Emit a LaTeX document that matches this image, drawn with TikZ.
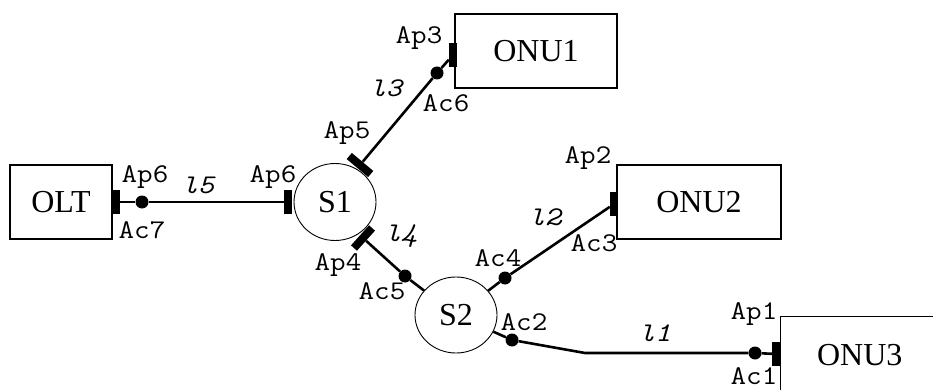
\documentclass[tikz,border=0pt]{standalone}
\usepackage{fontspec}
\usepackage{graphicx}
\setmainfont{Liberation Serif}
\usetikzlibrary{shapes.geometric}
\newcommand\widetxt[1]{\scalebox{1.12}[1]{#1}}
\begin{document}
\begin{tikzpicture}[x=1pt,y=-1pt,
  box/.style={draw, line width=1.4pt, rectangle, inner sep=0pt, font=\fontsize{32}{32}\selectfont},
  sw/.style={draw, line width=0.9pt, ellipse, minimum width=82pt, minimum height=77pt, inner sep=0pt, font=\fontsize{32}{32}\selectfont},
  pbar/.style={fill=black, rectangle, minimum width=8pt, minimum height=24pt, inner sep=0pt},
  pdot/.style={fill=black, circle, minimum size=13pt, inner sep=0pt},
  conn/.style={line width=2.6pt},
  lab/.style={font=\ttfamily\fontsize{27}{27}\selectfont, inner sep=0pt},
  lname/.style={font=\ttfamily\itshape\fontsize{27}{27}\selectfont, inner sep=0pt}]
\useasboundingbox (0,0) rectangle (933,390);
\clip (0,0) rectangle (933,390);
\fill[white] (0,0) rectangle (933,390);

% boxes
\node[box, minimum width=102pt, minimum height=74pt] (OLT) at (61,202) {OLT};
\node[box, minimum width=162pt, minimum height=74pt] (ONU1) at (536,51) {ONU1};
\node[box, minimum width=164pt, minimum height=74pt] (ONU2) at (699,202) {ONU2};
\node[box, minimum width=158pt, minimum height=76pt, anchor=north west] (ONU3) at (780,316) {ONU3};

% splitters
\node[sw] (S1) at (335,202) {S1};
\node[sw, minimum height=76pt] (S2) at (456,315) {S2};

% ports (bars)
\node[pbar] (pOLT) at (116,202) {};
\node[pbar] (pS1w) at (288,202) {};
\node[pbar, rotate=50, minimum height=28pt] (pS1n) at (360,165) {};
\node[pbar, rotate=-42, minimum height=27pt] (pS1s) at (363,238) {};
\node[pbar] (pONU1) at (453,55) {};
\node[pbar] (pONU2) at (614,204) {};
\node[pbar] (pONU3) at (776,354) {};

% ports (dots)
\node[pdot] (dOLT) at (142,202) {};
\node[pdot] (dONU1) at (437,73) {};
\node[pdot] (dS2n) at (405,276) {};
\node[pdot] (dS2e) at (505,278) {};
\node[pdot] (dS2s) at (512,340) {};
\node[pdot] (dONU3) at (755,353) {};
\coordinate (bend) at (585,353);

% connectors
\draw[conn] (pOLT) -- (dOLT) -- (pS1w);
\draw[conn] (pS1n) -- (dONU1) -- (pONU1);
\draw[conn] (pS1s) -- (dS2n) -- (S2);
\draw[conn] (S2) -- (dS2e) -- (pONU2);
\draw[conn] (S2) -- (dS2s) -- (bend) -- (dONU3) -- (pONU3);

% labels
\node[lab] (tOLTap) at (145,177) {\widetxt{Ap6}};
\node[lab] (tOLTac) at (142,230) {\widetxt{Ac7}};
\node[lname] (tl5) at (198,185) {\widetxt{l5}};
\node[lab] (tS1ap6) at (273,177) {\widetxt{Ap6}};
\node[lab] (tAp3) at (419,38) {\widetxt{Ap3}};
\node[lname] (tl3) at (386,88) {\widetxt{l3}};
\node[lab] (tAc6) at (446,103) {\widetxt{Ac6}};
\node[lab] (tAp5) at (347,133) {\widetxt{Ap5}};
\node[lab] (tAp2) at (588,158) {\widetxt{Ap2}};
\node[lname] (tl4) at (401,236) {\widetxt{l4}};
\node[lab] (tAp4) at (338,265) {\widetxt{Ap4}};
\node[lab] (tAc5) at (382,291) {\widetxt{Ac5}};
\node[lab] (tAc4) at (498,258) {\widetxt{Ac4}};
\node[lname] (tl2) at (545,217) {\widetxt{l2}};
\node[lab] (tAc3) at (594,243) {\widetxt{Ac3}};
\node[lab] (tAc2) at (524,322) {\widetxt{Ac2}};
\node[lname] (tl1) at (655,333) {\widetxt{l1}};
\node[lab] (tAp1) at (754,314) {\widetxt{Ap1}};
\node[lab] (tAc1) at (754,376) {\widetxt{Ac1}};
\end{tikzpicture}
\end{document}
